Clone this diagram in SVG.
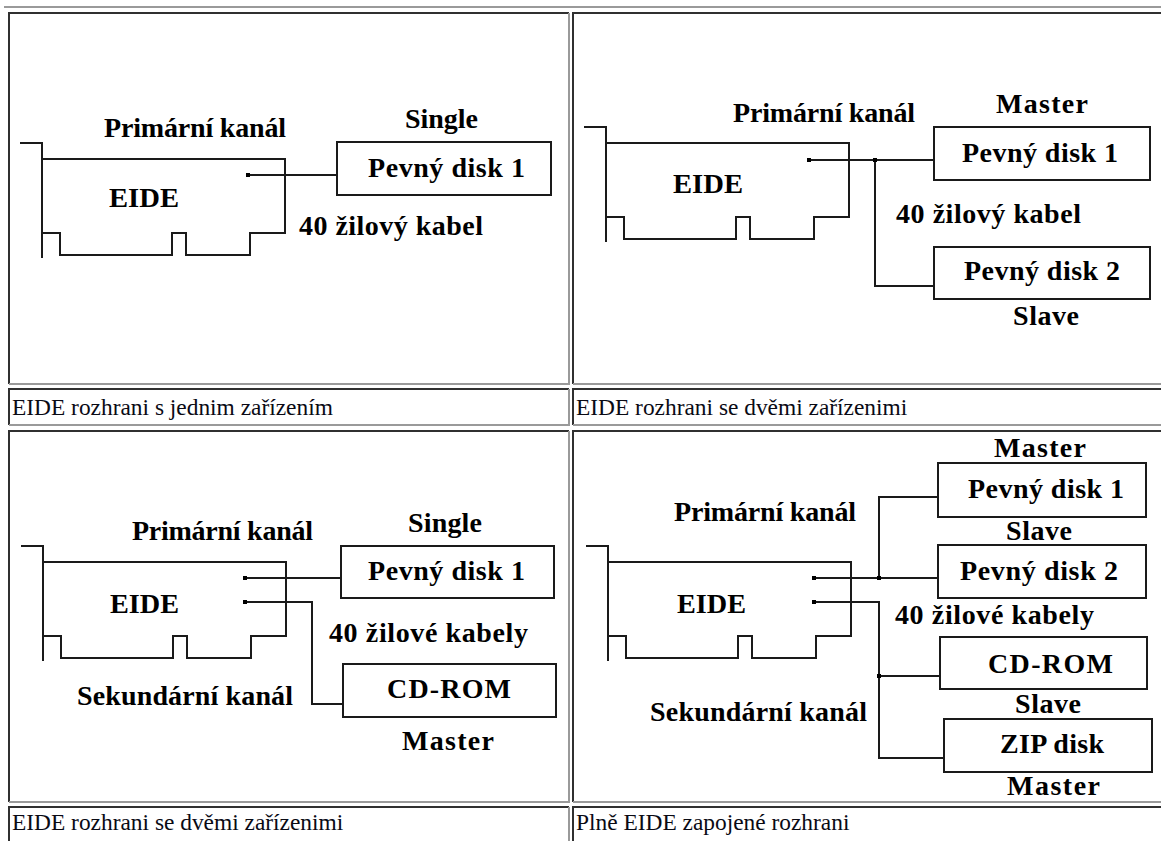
<svg xmlns="http://www.w3.org/2000/svg" width="1161" height="841" viewBox="0 0 1161 841">
<defs>
<style>
.bg{fill:#ffffff}
.cd{stroke:#303030;stroke-width:2;fill:none}
.cl{stroke:#9a9a9a;stroke-width:2;fill:none}
.ln{stroke:#1a1a1a;stroke-width:2;fill:none;stroke-linecap:square}
.box{fill:#ffffff;stroke:#1a1a1a;stroke-width:2}
.lb{font-family:"Liberation Serif","Times New Roman",serif;font-weight:bold;font-size:28px;fill:#000}
.cap{font-family:"Liberation Serif","Times New Roman",serif;font-size:23.4px;fill:#0a0a14}
.dot{fill:#000}
</style>
<path id="card" class="ln" d="M-21,-16 H0 V98 M0,0 H243 V74 H208 V96 H144 V74 H130 V96 H18 V74 H0"/>
</defs>
<rect class="bg" x="0" y="0" width="1161" height="841"/>
<g id="table">
<line class="cl" x1="4" y1="7" x2="1161" y2="7"/>
<path class="cd" d="M9,384 V13 H569"/><path class="cl" d="M569,13 V384 H9"/>
<path class="cd" d="M573,384 V13 H1161"/><path class="cl" d="M573,384 H1161"/>
<path class="cd" d="M9,425 V389 H569"/><path class="cl" d="M569,389 V425 H9"/>
<path class="cd" d="M573,425 V389 H1161"/><path class="cl" d="M573,425 H1161"/>
<path class="cd" d="M9,802 V431 H569"/><path class="cl" d="M569,431 V802 H9"/>
<path class="cd" d="M573,802 V431 H1161"/><path class="cl" d="M573,802 H1161"/>
<path class="cd" d="M9,841 V807 H569"/><path class="cl" d="M569,807 V841"/>
<path class="cd" d="M573,841 V807 H1161"/>
</g>
<g id="captions">
<text class="cap" x="12" y="415">EIDE rozhrani s jednim zařízením</text>
<text class="cap" x="576" y="415">EIDE rozhrani se dvěmi zařízenimi</text>
<text class="cap" x="12" y="830">EIDE rozhrani se dvěmi zařízenimi</text>
<text class="cap" x="576" y="830">Plně EIDE zapojené rozhrani</text>
</g>

<g id="panel1">
<g id="p1-card"><use href="#card" x="42" y="159"/><text class="lb" x="109" y="207" textLength="70" lengthAdjust="spacingAndGlyphs">EIDE</text></g>
<text class="lb" x="104" y="137" textLength="182">Primární kanál</text>
<g id="p1-disk1"><rect class="box" x="337" y="142" width="214" height="53"/><text class="lb" x="368" y="177" textLength="157">Pevný disk 1</text></g>
<text class="lb" x="405" y="128" textLength="73">Single</text>
<text class="lb" x="299" y="235" textLength="184">40 žilový kabel</text>
<g id="p1-connectors"><path class="ln" d="M248,175 H337"/><rect class="dot" x="246" y="173" width="4" height="4"/></g>
</g>

<g id="panel2">
<g id="p2-card"><use href="#card" x="606" y="143"/><text class="lb" x="673" y="193" textLength="70" lengthAdjust="spacingAndGlyphs">EIDE</text></g>
<text class="lb" x="733" y="122" textLength="182">Primární kanál</text>
<g id="p2-disk1"><rect class="box" x="934" y="127" width="216" height="53"/><text class="lb" x="962" y="162" textLength="156">Pevný disk 1</text></g>
<g id="p2-disk2"><rect class="box" x="934" y="247" width="216" height="52"/><text class="lb" x="964" y="280" textLength="156">Pevný disk 2</text></g>
<text class="lb" x="996" y="113" textLength="92">Master</text>
<text class="lb" x="1013" y="325" textLength="66">Slave</text>
<text class="lb" x="896" y="223" textLength="185">40 žilový kabel</text>
<g id="p2-connectors"><path class="ln" d="M809,160 H934 M875,160 V286 H934"/><rect class="dot" x="807" y="158" width="4" height="4"/><rect class="dot" x="873" y="158" width="4" height="4"/></g>
</g>

<g id="panel3">
<g id="p3-card"><use href="#card" x="43" y="562"/><text class="lb" x="110" y="613" textLength="69" lengthAdjust="spacingAndGlyphs">EIDE</text></g>
<text class="lb" x="132" y="540" textLength="181">Primární kanál</text>
<text class="lb" x="77" y="705" textLength="216">Sekundární kanál</text>
<g id="p3-disk1"><rect class="box" x="341" y="546" width="213" height="52"/><text class="lb" x="368" y="580" textLength="157">Pevný disk 1</text></g>
<g id="p3-cdrom"><rect class="box" x="343" y="664" width="213" height="53"/><text class="lb" x="387" y="698" textLength="124">CD-ROM</text></g>
<text class="lb" x="408" y="532" textLength="74">Single</text>
<text class="lb" x="402" y="750" textLength="92">Master</text>
<text class="lb" x="329" y="642" textLength="199">40 žilové kabely</text>
<g id="p3-connectors"><path class="ln" d="M245,578 H341 M245,602 H312 V704 H343"/><rect class="dot" x="243" y="576" width="4" height="4"/><rect class="dot" x="243" y="600" width="4" height="4"/></g>
</g>

<g id="panel4">
<g id="p4-card"><use href="#card" x="608" y="562"/><text class="lb" x="677" y="613" textLength="69" lengthAdjust="spacingAndGlyphs">EIDE</text></g>
<text class="lb" x="674" y="521" textLength="182">Primární kanál</text>
<text class="lb" x="650" y="721" textLength="217">Sekundární kanál</text>
<g id="p4-disk1"><rect class="box" x="938" y="463" width="208" height="54"/><text class="lb" x="968" y="498" textLength="156">Pevný disk 1</text></g>
<g id="p4-disk2"><rect class="box" x="938" y="545" width="208" height="53"/><text class="lb" x="960" y="580" textLength="158">Pevný disk 2</text></g>
<g id="p4-cdrom"><rect class="box" x="940" y="637" width="207" height="52"/><text class="lb" x="988" y="673" textLength="125">CD-ROM</text></g>
<g id="p4-zip"><rect class="box" x="944" y="719" width="208" height="53"/><text class="lb" x="1000" y="753" textLength="104">ZIP disk</text></g>
<text class="lb" x="994" y="457" textLength="92">Master</text>
<text class="lb" x="1006" y="540" textLength="66">Slave</text>
<text class="lb" x="1015" y="713" textLength="66">Slave</text>
<text class="lb" x="1007" y="795" textLength="93">Master</text>
<text class="lb" x="895" y="624" textLength="199">40 žilové kabely</text>
<g id="p4-connectors"><path class="ln" d="M814,578 H938 M879,578 V497 H938 M814,602 H879 V758 H944 M879,676 H940"/><rect class="dot" x="812" y="576" width="4" height="4"/><rect class="dot" x="812" y="600" width="4" height="4"/><rect class="dot" x="877" y="576" width="4" height="4"/><rect class="dot" x="877" y="674" width="4" height="4"/></g>
</g>
</svg>
